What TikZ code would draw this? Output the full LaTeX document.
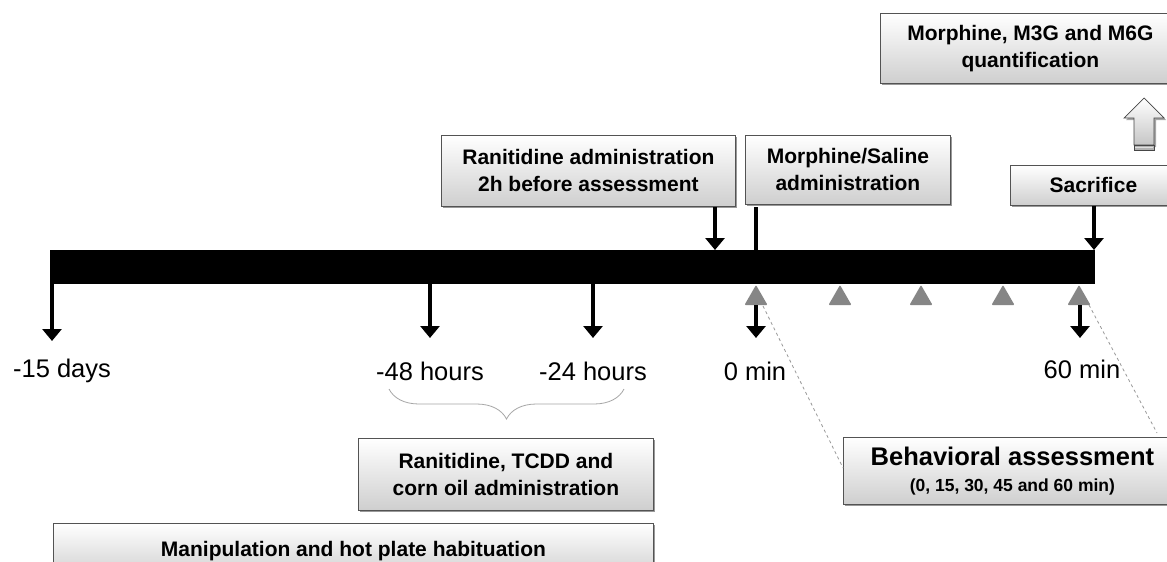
\documentclass[tikz,border=0pt]{standalone}
\usepackage{fontspec}
\setmainfont{Liberation Sans}
\usetikzlibrary{arrows.meta,shadows,decorations.pathreplacing}
\tikzset{
  x=1pt, y=-1pt,
  box/.style={draw=gray!65!black, line width=0.8pt, top color=white, bottom color=gray!38,
    drop shadow={shadow xshift=2pt, shadow yshift=-2pt, opacity=0.4, fill=black},
    align=center, inner sep=0pt, anchor=north west,
    font=\fontsize{21}{27}\selectfont\bfseries},
  arr/.style={line width=3.6pt, -{Triangle[width=19pt,length=12pt]}},
  stick/.style={line width=3.6pt},
  lbl/.style={font=\fontsize{25.5}{28}\selectfont, inner sep=0pt},
  tmark/.style={fill=gray!95, rounded corners=1pt},
  guide/.style={gray!80, line width=0.8pt, dash pattern=on 3pt off 3pt},
}
\begin{document}
\begin{tikzpicture}
\clip (0,0) rectangle (1167,562);
\fill[white] (0,0) rectangle (1167,562);

% timeline bar
\node[fill=black, inner sep=0pt, minimum width=1045pt, minimum height=34pt, anchor=north west] (bar) at (50,250) {};

% boxes
\node[box, minimum width=294pt, minimum height=71pt] (ran) at (441,135) {Ranitidine administration\\2h before assessment};
\node[box, minimum width=205pt, minimum height=69pt] (mor) at (745,135) {Morphine/Saline\\administration};
\node[box, minimum width=166pt, minimum height=40pt] (sac) at (1010,165) {Sacrifice};
\node[box, minimum width=300pt, minimum height=70pt] (quant) at (880,13) {Morphine, M3G and M6G\\quantification};
\node[box, minimum width=295pt, minimum height=72pt] (tcdd) at (358,438) {Ranitidine, TCDD and\\corn oil administration};
\node[box, minimum width=600pt, minimum height=55pt] (manip) at (53,523) {Manipulation and hot plate habituation};
\node[box, minimum width=338pt, minimum height=67pt] (behav) at (843,437)
  {{\fontsize{25.5}{28}\selectfont Behavioral assessment}\\[-1pt]{\fontsize{17.5}{20}\selectfont (0, 15, 30, 45 and 60 min)}};

% hollow up arrow
\draw[draw=gray!55!black, top color=white, bottom color=gray!45, line width=0.7pt,
  drop shadow={shadow xshift=2pt, shadow yshift=-2pt, opacity=0.35, fill=black}]
  (1144,98) -- (1164,118) -- (1154,118) -- (1154,145) -- (1134,145) -- (1134,118) -- (1124,118) -- cycle;
\draw[draw=gray!55!black, fill=gray!60, line width=0.7pt] (1134,145) rectangle (1154,150);
\draw[gray!25, line width=1.2pt] (1135,147.5) -- (1153,147.5);

% gray triangles
\foreach \tx/\tn in {756/t0, 840/t1, 921/t2, 1003/t3, 1079/t4}{
  \fill[tmark] (\tx,285) -- (\tx+11.5,305) -- (\tx-11.5,305) -- cycle;
  \coordinate (\tn) at (\tx,305);
}

% arrows from the bar
\coordinate (p15) at (52,341);
\coordinate (p48) at (430,338);
\coordinate (p24) at (593,338);
\coordinate (p0) at (756,338);
\coordinate (p60) at (1080,338);
\draw[arr] (bar.south -| p15) -- (p15);
\draw[arr] (bar.south -| p48) -- (p48);
\draw[arr] (bar.south -| p24) -- (p24);
\draw[arr] (t0) -- (p0);
\draw[arr] (t4 -| p60) -- (p60);

% arrows to the bar
\coordinate (q1) at (715,206);
\coordinate (q3) at (1094,205);
\draw[arr] (ran.south -| q1) -- (bar.north -| q1);
\draw[stick] (756,207) -- (bar.north -| p0);
\draw[arr] (sac.south -| q3) -- (bar.north -| q3);

% labels
\node[lbl] (l15) at (62,371) {-15 days};
\node[lbl] (l48) at (430,371) {-48 hours};
\node[lbl] (l24) at (593,371) {-24 hours};
\node[lbl] (l0) at (755,371) {0 min};
\node[lbl] (l60) at (1082,369) {60 min};

% brace
\draw[gray!70, line width=0.8pt, decorate, decoration={brace, mirror, amplitude=30pt, aspect=0.5}] (389,389) -- (624,389);

% dashed guides
\coordinate (g0) at (763,306);
\coordinate (g60) at (1089,305);
\draw[guide] (g0) -- ([yshift=3pt]behav.west);
\draw[guide] (g60) -- (1157,433);
\end{tikzpicture}
\end{document}
